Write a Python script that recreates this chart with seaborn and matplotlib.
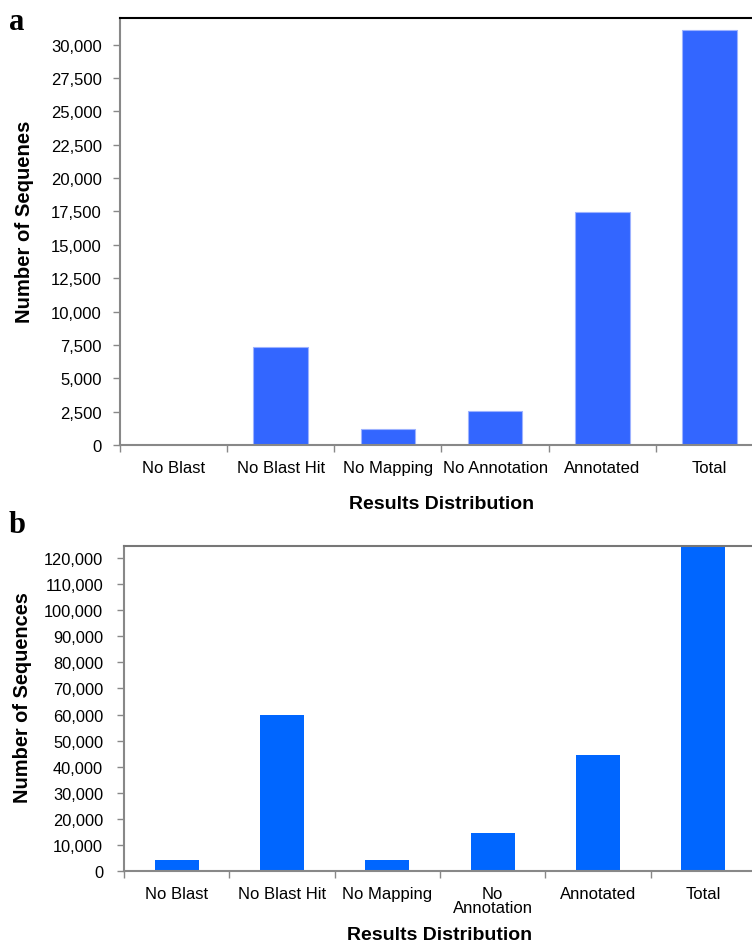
import numpy as np
import matplotlib
matplotlib.use("Agg")
import matplotlib.pyplot as plt
import matplotlib.ticker as mticker
import seaborn as sns

categories_a = ['No Blast', 'No Blast Hit', 'No Mapping', 'No Annotation', 'Annotated', 'Total']
values_a = [0, 7350, 1200, 2550, 17475, 31125]

categories_b = ['No Blast', 'No Blast Hit', 'No Mapping', 'No\nAnnotation', 'Annotated', 'Total']
values_b = [4200, 59800, 4200, 14570, 44470, 127240]

blue_a = '#3366FF'
blue_b = '#0066FF'
grey = '#888888'

sns.set_style('white')
plt.rcParams['font.family'] = ['Liberation Sans', 'DejaVu Sans']
plt.rcParams['text.color'] = 'black'
plt.rcParams['axes.labelcolor'] = 'black'
plt.rcParams['xtick.labelcolor'] = 'black'
plt.rcParams['ytick.labelcolor'] = 'black'

fig = plt.figure(figsize=(7.52, 9.45), dpi=100)
ax_a = fig.add_axes([0.1596, 0.528, 0.855, 0.452])
ax_b = fig.add_axes([0.1649, 0.0772, 0.8404, 0.344])


def style_axes(ax, cats, ymax, ystep, top_color, pad_y):
    ax.set_xlim(-0.5, len(cats) - 0.5)
    ax.set_ylim(0, ymax)
    ax.yaxis.set_major_locator(mticker.MultipleLocator(ystep))
    ax.yaxis.set_major_formatter(mticker.StrMethodFormatter('{x:,.0f}'))
    # tick marks between categories, labels at the centres
    ax.set_xticks(np.arange(-0.5, len(cats) - 0.5, 1.0))
    ax.set_xticklabels([])
    ax.set_xticks(np.arange(len(cats)), minor=True)
    ax.set_xticklabels(cats, minor=True, fontsize=12, va='top', linespacing=0.9)
    ax.tick_params(axis='x', which='major', direction='out', length=5, width=1, color=grey, bottom=True)
    ax.tick_params(axis='x', which='minor', length=0, pad=11, bottom=True, labelcolor='black')
    ax.tick_params(axis='y', direction='out', length=5, width=1, color=grey, left=True,
                   labelsize=12, pad=pad_y, labelcolor='black')
    for side in ['left', 'bottom']:
        ax.spines[side].set_color(grey)
        ax.spines[side].set_linewidth(1.5)
    ax.spines['top'].set_color(top_color)
    ax.spines['top'].set_linewidth(1.5)
    ax.spines['right'].set_visible(False)
    ax.set_xlabel('')


sns.barplot(x=list(range(len(categories_a))), y=values_a, color=blue_a, saturation=1,
            width=0.51, edgecolor='#9DB2FF', linewidth=0.8, ax=ax_a)
style_axes(ax_a, categories_a, 32000, 2500, 'black', 8)
ax_a.set_ylabel('Number of Sequenes', fontsize=14.6, fontweight='bold', color='black')
ax_a.yaxis.set_label_coords(-0.134, 0.525)
ax_a.text(0.5, -0.138, 'Results Distribution', transform=ax_a.transAxes, ha='center',
          va='center', fontsize=14, fontweight='bold', color='black')
fig.text(0.012, 0.976, 'a', fontsize=22, fontweight='bold', family='Liberation Serif',
         va='center', ha='left', color='black')

sns.barplot(x=list(range(len(categories_b))), y=values_b, color=blue_b, saturation=1,
            width=0.42, linewidth=0, ax=ax_b)
style_axes(ax_b, categories_b, 124600, 10000, '#777777', 10)
ax_b.tick_params(axis='y', labelsize=11.8)
ax_b.set_ylabel('Number of Sequences', fontsize=14.4, fontweight='bold', color='black')
ax_b.yaxis.set_label_coords(-0.145, 0.537)
ax_b.text(0.5, -0.194, 'Results Distribution', transform=ax_b.transAxes, ha='center',
          va='center', fontsize=14, fontweight='bold', color='black')
fig.text(0.012, 0.444, 'b', fontsize=22, fontweight='bold', family='Liberation Serif',
         va='center', ha='left', color='black')

fig.savefig('out.png', dpi=100)
